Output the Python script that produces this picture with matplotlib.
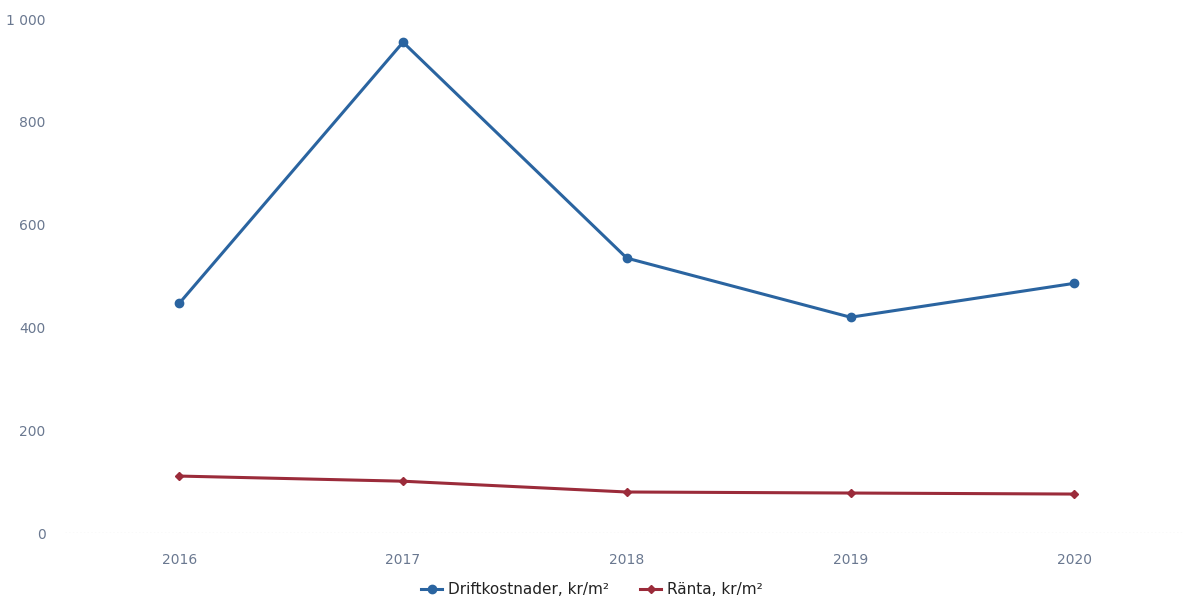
import matplotlib.pyplot as plt
from matplotlib.ticker import FuncFormatter

years = [2016, 2017, 2018, 2019, 2020]
drift = [447, 955, 535, 420, 486]
ranta = [111, 101, 80, 78, 76]
yticks = [0, 200, 400, 600, 800, 1000]

blue = "#2a64a0"
red = "#9b2b3a"

fig = plt.figure(figsize=(11.84, 5.97), dpi=100)
ax = fig.add_axes([0.055, 0.107, 0.945, 0.861])

ax.plot(years, drift, color=blue, lw=2.2, marker="o", ms=6, label="Driftkostnader, kr/m²")
ax.plot(years, ranta, color=red, lw=2.2, marker="D", ms=4.5, label="Ränta, kr/m²")

ax.set_xlim(2015.49, 2020.49)
ax.set_ylim(0, 1000)
ax.set_xticks(years)
ax.set_yticks(yticks)
ax.yaxis.set_major_formatter(FuncFormatter(lambda v, p: f"{int(v):,}".replace(",", " ")))
ax.tick_params(length=0, labelsize=10, colors="#6a7890")
ax.tick_params(axis="x", pad=14)
ax.tick_params(axis="y", pad=14)
for s in ax.spines.values():
    s.set_visible(False)
ax.axhline(0, color="#e6e6e6", lw=1, ls=":")

h, l = ax.get_legend_handles_labels()
leg = fig.legend(h, l, loc="center", bbox_to_anchor=(0.5, 0.012), ncol=2, frameon=False,
                 fontsize=11, handlelength=1.4, columnspacing=2.0, handletextpad=0.4)
for t in leg.get_texts():
    t.set_color("#222222")

fig.savefig("out.png", dpi=100)
